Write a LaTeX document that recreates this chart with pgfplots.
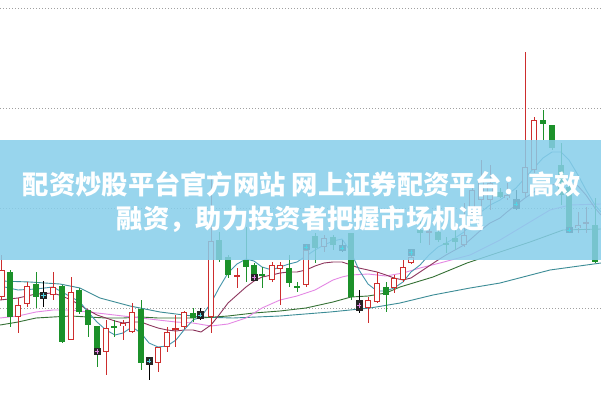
\documentclass[border=0pt]{standalone}
\usepackage{pgfplots}
\pgfplotsset{compat=1.18}
\usepackage{pgfplotstable}
\usepackage{fontspec}
\newfontfamily\cjk{Noto Sans CJK SC}
\definecolor{cRed}{RGB}{205,45,45}
\definecolor{cGreen}{RGB}{28,145,42}
\definecolor{cCyan}{RGB}{80,215,230}
\definecolor{cPink}{RGB}{230,130,230}
\definecolor{maA}{RGB}{70,150,172}
\definecolor{maB}{RGB}{140,52,92}
\definecolor{maC}{RGB}{228,135,228}
\definecolor{maD}{RGB}{52,112,52}
\definecolor{maE}{RGB}{60,140,150}
\definecolor{banner}{RGB}{135,206,235}
\definecolor{gridc}{RGB}{160,160,160}

% red hollow candles: x, body top, body bottom, high, low (pixel y, downwards)
\pgfplotstableread{
x top bot hi lo
1.5 270 297 255 300
18 305 317 298 333
27 286 304 282 307
53 287 295 272 300
71 292 340 277 340
106 328 352 320 375
123 323 326 320 340
132 312 332 303 333
158 347 363 347 372
167 332 347 327 352
175.5 328 330 315 347
184 312 327 311 329
211 241 317 175 333
237 275 277 268 288
272 265 280 262 282
280 265 269 262 305
306 250 285 245 287
324 238 247 235 252
368 300 308 297 323
377 283 302 272 303
394 278 288 275 293
403 267 280 260 282
411 257 263 250 264
429 231 233 223 245
464 235 245 203 247
472 190 213 185 216
481 180 200 160 217
490 183 200 165 210
507 195 198 183 200
525 167 193 52 197
534 120 170 117 173
578 225 228 212 233
586 222 224 207 233
}\redc

% green filled candles
\pgfplotstableread{
x top bot hi lo
10 272 317 270 327
36 284 297 272 308
62 286 342 285 343
79 290 312 288 314
88 310 325 310 337
97 326 350 326 367
114 326 328 320 337
141 309 363 300 370
193 313 318 308 322
219 240 260 232 262
228 257 275 255 278
246 260 267 227 282
254 265 275 263 280
262 274 276 267 288
289 268 283 255 287
297 286 288 282 292
315 236 248 233 263
333 237 245 235 250
351 233 297 233 300
386 287 295 282 312
420 230 233 207 243
438 232 240 227 242
446 243 245 237 253
455 238 242 230 250
500 192 197 188 198
543 120 124 110 140
552 125 148 125 150
561 165 195 143 205
569 187 230 183 233
595 225 262 198 263
}\greenc

% marker boxes (dark squares)
\pgfplotstableread{
x top bot hi lo
43.5 292 299 281 307
149 357 365 357 380
200 311 319 308 320
306 244 250 244 250
342 245 251 240 252
411 249 256 249 256
516 199 209 190 210
569 227 233 227 233
}\cyanbox
\pgfplotstableread{
x top bot hi lo
97 348 355 348 355
254 274 281 274 281
359 300 311 290 313
}\pinkbox

\pgfplotstableread{
x y
0 286
18 290
36 289
53 287
62 292
71 297
80 302
88 312
97 322
106 330
115 335
123 333
132 327
141 333
149 343
158 347
167 346
176 340
184 330
193 320
201 317
211 303
219 288
228 273
237 264
246 259
254 261
262 267
272 270
280 267
289 264
297 262
306 256
315 250
324 245
333 241
342 239
351 252
359 270
368 284
377 291
386 291
394 288
403 282
411 272
420 265
429 255
438 247
446 243
455 238
464 232
472 222
481 212
490 205
500 200
507 195
516 188
525 178
534 168
543 158
552 152
561 152
569 160
578 175
586 190
595 205
601 212
}\maa

\pgfplotstableread{
x y
0 300
18 298
36 294
53 293
62 296
71 300
80 305
88 310
97 315
106 318
115 321
123 323
132 322
141 322
149 325
158 328
167 330
176 331
184 330
193 330
201 332
211 325
219 315
228 303
237 295
246 287
254 281
262 277
272 275
280 273
289 272
297 272
306 270
315 266
324 263
333 262
342 262
351 265
359 268
368 270
377 272
386 275
394 278
403 280
411 278
420 272
429 266
438 260
446 255
455 250
464 245
472 238
481 230
490 223
500 218
507 212
516 205
525 198
534 192
543 188
552 185
561 183
569 183
578 186
586 195
595 208
601 215
}\mab

\pgfplotstableread{
x y
0 318
18 316
36 312
53 310
71 310
88 312
106 314
123 316
141 318
158 320
176 322
193 323
211 326
228 324
246 318
262 308
280 300
297 296
315 290
333 280
342 277
351 275
368 274
386 276
403 273
420 268
440 263
470 255
500 240
525 225
550 210
570 205
601 204
}\mac

\pgfplotstableread{
x y
0 325
18 322
36 318
53 317
71 316
88 317
106 318
123 318
141 317
158 318
176 318
201 318
228 316
254 313
280 311
306 308
333 302
351 297
368 296
386 293
400 287
433 277
467 263
500 252
530 242
563 230
601 229
}\mad

\pgfplotstableread{
x y
0 281
30 282
60 284
80 288
100 298
130 306
160 312
200 317
233 318
280 316
330 312
370 308
400 303
433 295
470 288
500 283
550 270
601 263
}\mae

\pgfplotsset{
  wick/.style={draw=none, mark=none, forget plot,
    error bars/.cd, y dir=both, y explicit, error mark=none,
    error bar style={draw=#1, line width=0.9bp}},
  body/.style 2 args={draw=none, mark=none, forget plot,
    error bars/.cd, y dir=both, y explicit, error mark=none,
    error bar style={draw=#1, line width=#2}},
}

\begin{document}
\begin{tikzpicture}
\begin{axis}[
  width=601bp, height=400bp, scale only axis,
  xmin=0, xmax=601, ymin=0, ymax=400, y dir=reverse,
  hide axis, clip=true,
]
\fill[white] (axis cs:0,0) rectangle (axis cs:601,400);
% dotted gridlines
\foreach \g in {8,108,208,308}{
  \edef\tmp{\noexpand\draw[gridc, line width=0.9bp, dash pattern=on 1.1bp off 1.9bp] (axis cs:0,\g) -- (axis cs:601,\g);}\tmp
}
% moving averages
\addplot[maE, line width=0.9bp, mark=none] table[x=x,y=y]{\mae};
\addplot[maD, line width=0.9bp, mark=none] table[x=x,y=y]{\mad};
\addplot[maC, line width=0.9bp, mark=none] table[x=x,y=y]{\mac};
\addplot[maB, line width=0.9bp, mark=none] table[x=x,y=y]{\mab};
\addplot[maA, line width=0.9bp, mark=none] table[x=x,y=y]{\maa};

% wicks
\addplot[wick=cRed] table[x=x, y expr={(\thisrow{hi}+\thisrow{lo})/2}, y error expr={(\thisrow{lo}-\thisrow{hi})/2}]{\redc};
\addplot[wick=cGreen] table[x=x, y expr={(\thisrow{hi}+\thisrow{lo})/2}, y error expr={(\thisrow{lo}-\thisrow{hi})/2}]{\greenc};
\addplot[wick=black] table[x=x, y expr={(\thisrow{hi}+\thisrow{lo})/2}, y error expr={(\thisrow{lo}-\thisrow{hi})/2}]{\cyanbox};
\addplot[wick=black] table[x=x, y expr={(\thisrow{hi}+\thisrow{lo})/2}, y error expr={(\thisrow{lo}-\thisrow{hi})/2}]{\pinkbox};

% bodies
\addplot[body={cGreen}{6.4bp}] table[x=x, y expr={(\thisrow{top}+\thisrow{bot})/2}, y error expr={max((\thisrow{bot}-\thisrow{top})/2,0.6)}]{\greenc};
\addplot[body={cRed}{6.4bp}] table[x=x, y expr={(\thisrow{top}+\thisrow{bot})/2}, y error expr={max((\thisrow{bot}-\thisrow{top})/2,0.6)}]{\redc};
\addplot[body={white}{4.4bp}] table[x=x, y expr={(\thisrow{top}+\thisrow{bot})/2}, y error expr={max((\thisrow{bot}-\thisrow{top})/2-1.1,0)}]{\redc};

% marker boxes
\addplot[body={black!85}{7bp}] table[x=x, y expr={(\thisrow{top}+\thisrow{bot})/2}, y error expr={(\thisrow{bot}-\thisrow{top})/2}]{\cyanbox};
\addplot[body={black!85}{7bp}] table[x=x, y expr={(\thisrow{top}+\thisrow{bot})/2}, y error expr={(\thisrow{bot}-\thisrow{top})/2}]{\pinkbox};
\addplot[only marks, mark=+, mark size=2.2bp, cCyan, line width=0.9bp, forget plot] table[x=x, y expr={(\thisrow{top}+\thisrow{bot})/2}]{\cyanbox};
\addplot[only marks, mark=+, mark size=2.2bp, cPink, line width=0.9bp, forget plot] table[x=x, y expr={(\thisrow{top}+\thisrow{bot})/2}]{\pinkbox};

% banner
\fill[banner, opacity=0.85] (axis cs:0,140) rectangle (axis cs:601,260);
\node[white, font=\cjk\bfseries\fontsize{26.4}{30}\selectfont, anchor=center] at (axis cs:302,184) {配资炒股平台官方网站 网上证券配资平台：高效};
\node[white, font=\cjk\bfseries\fontsize{26.4}{30}\selectfont, anchor=center] at (axis cs:301,219) {融资，助力投资者把握市场机遇};
\end{axis}
\end{tikzpicture}
\end{document}
